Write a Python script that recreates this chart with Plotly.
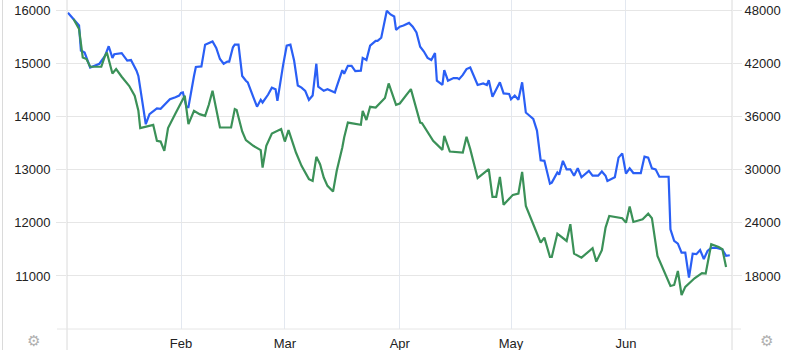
import plotly.graph_objects as go

blue_dates = [
    "2013-01-01 12:00", "2013-01-04 12:00", "2013-01-05", "2013-01-06", "2013-01-07 12:00",
    "2013-01-10", "2013-01-11 12:00", "2013-01-12 12:00", "2013-01-13 12:00", "2013-01-14",
    "2013-01-16", "2013-01-17 12:00", "2013-01-18 12:00", "2013-01-20", "2013-01-20 12:00",
    "2013-01-22", "2013-01-22 12:00", "2013-01-23 12:00", "2013-01-25 12:00", "2013-01-26 12:00",
    "2013-01-29", "2013-01-30 12:00", "2013-01-31 12:00", "2013-02-01", "2013-02-01 12:00",
    "2013-02-02 12:00", "2013-02-03", "2013-02-04 12:00", "2013-02-05", "2013-02-06 12:00",
    "2013-02-07 12:00", "2013-02-09 12:00", "2013-02-10 12:00", "2013-02-11 12:00", "2013-02-12 12:00",
    "2013-02-13 12:00", "2013-02-14", "2013-02-15", "2013-02-15 12:00", "2013-02-16 12:00",
    "2013-02-17 12:00", "2013-02-18 12:00", "2013-02-19", "2013-02-20 12:00", "2013-02-21 12:00",
    "2013-02-22 12:00", "2013-02-23", "2013-02-24 12:00", "2013-02-25 12:00", "2013-02-26 12:00",
    "2013-02-27", "2013-02-28 12:00", "2013-03-01 12:00", "2013-03-02 12:00", "2013-03-03 12:00",
    "2013-03-04 12:00", "2013-03-05 12:00", "2013-03-06 12:00", "2013-03-07 12:00", "2013-03-08 12:00",
    "2013-03-09 12:00", "2013-03-10", "2013-03-11 12:00", "2013-03-12 12:00", "2013-03-13 12:00",
    "2013-03-14 12:00", "2013-03-15", "2013-03-16 12:00", "2013-03-17", "2013-03-18",
    "2013-03-19", "2013-03-20", "2013-03-21 12:00", "2013-03-22", "2013-03-23",
    "2013-03-24", "2013-03-25 12:00", "2013-03-26", "2013-03-27", "2013-03-28 12:00",
    "2013-03-29 12:00", "2013-03-30 12:00", "2013-03-31", "2013-04-01", "2013-04-02",
    "2013-04-03 12:00", "2013-04-04 12:00", "2013-04-05 12:00", "2013-04-06 12:00", "2013-04-07 12:00",
    "2013-04-08 12:00", "2013-04-09 12:00", "2013-04-10 12:00", "2013-04-11", "2013-04-12 12:00",
    "2013-04-13", "2013-04-14", "2013-04-15 12:00", "2013-04-16 12:00", "2013-04-17",
    "2013-04-18", "2013-04-19", "2013-04-20", "2013-04-21", "2013-04-22",
    "2013-04-23 12:00", "2013-04-24 12:00", "2013-04-25", "2013-04-26", "2013-04-28",
    "2013-04-29", "2013-04-30 12:00", "2013-05-01", "2013-05-02", "2013-05-03",
    "2013-05-04", "2013-05-05", "2013-05-06", "2013-05-07", "2013-05-08",
    "2013-05-09", "2013-05-10", "2013-05-11 12:00", "2013-05-12", "2013-05-13 12:00",
    "2013-05-14", "2013-05-15", "2013-05-16", "2013-05-17", "2013-05-18",
    "2013-05-19", "2013-05-20", "2013-05-22", "2013-05-23", "2013-05-24 12:00",
    "2013-05-25 12:00", "2013-05-26 12:00", "2013-05-27", "2013-05-29", "2013-05-30",
    "2013-05-31", "2013-06-01", "2013-06-02", "2013-06-03", "2013-06-05",
    "2013-06-06", "2013-06-07", "2013-06-08", "2013-06-09", "2013-06-10",
    "2013-06-12 12:00", "2013-06-13", "2013-06-14", "2013-06-15", "2013-06-16",
    "2013-06-17", "2013-06-18", "2013-06-19", "2013-06-20", "2013-06-21",
    "2013-06-22", "2013-06-23", "2013-06-24", "2013-06-25 12:00", "2013-06-27",
    "2013-06-28", "2013-06-29",
]
blue_values = [
    15960, 15720, 15250, 15210, 14930,
    15000, 15150, 15330, 15110, 15180,
    15200, 15060, 15070, 14870, 14770,
    14110, 13860, 14050, 14160, 14150,
    14330, 14370, 14400, 14450, 14460,
    14180, 14180, 14770, 14940, 14950,
    15360, 15420, 15300, 15090, 15000,
    15040, 15040, 15310, 15360, 15360,
    14770, 14680, 14650, 14370, 14190,
    14320, 14270, 14420, 14550, 14520,
    14300, 14960, 15340, 15360, 15060,
    14590, 14550, 14490, 14320, 14400,
    15000, 14570, 14490, 14520, 14490,
    14460, 14570, 14880, 14810, 14960,
    14960, 14860, 14870, 15110, 15070,
    15340, 15430, 15430, 15490, 16000,
    15930, 15890, 15640, 15700, 15720,
    15770, 15700, 15590, 15320, 15230,
    15110, 15070, 15200, 14680, 14600,
    14880, 14680, 14730, 14730, 14710,
    14790, 14900, 14930, 14770, 14600,
    14630, 14600, 14690, 14380, 14650,
    14440, 14430, 14330, 14400, 14320,
    14650, 14080, 14020, 13960, 13740,
    13180, 13170, 12740, 12760, 12950,
    12910, 13170, 13010, 13010, 12890,
    13030, 12860, 12980, 12890, 12890,
    12970, 12890, 12790, 12860, 13230,
    13310, 12930, 13030, 12940, 12940,
    13250, 13230, 13030, 13010, 12870,
    12870, 11880, 11660, 11610, 11440,
    11440, 10970, 11420, 11410, 11490,
    11320, 11470, 11530, 11530, 11500,
    11380, 11390,
]

green_dates = [
    "2013-01-03", "2013-01-04 12:00", "2013-01-05 12:00", "2013-01-06 12:00", "2013-01-07 12:00",
    "2013-01-10 12:00", "2013-01-11 12:00", "2013-01-12", "2013-01-13 12:00", "2013-01-14 12:00",
    "2013-01-16", "2013-01-18", "2013-01-19 12:00", "2013-01-20 12:00", "2013-01-21",
    "2013-01-23", "2013-01-24 12:00", "2013-01-25 12:00", "2013-01-26 12:00", "2013-01-27 12:00",
    "2013-01-28 12:00", "2013-01-30 12:00", "2013-02-02", "2013-02-03", "2013-02-04 12:00",
    "2013-02-06", "2013-02-07 12:00", "2013-02-08 12:00", "2013-02-09 12:00", "2013-02-11 12:00",
    "2013-02-14 12:00", "2013-02-15 12:00", "2013-02-16", "2013-02-17 12:00", "2013-02-18 12:00",
    "2013-02-20 12:00", "2013-02-22 12:00", "2013-02-23", "2013-02-24", "2013-02-25 12:00",
    "2013-02-28", "2013-03-01", "2013-03-02", "2013-03-04", "2013-03-05 12:00",
    "2013-03-07 12:00", "2013-03-08 12:00", "2013-03-09 12:00", "2013-03-10 12:00", "2013-03-11 12:00",
    "2013-03-12 12:00", "2013-03-14", "2013-03-15", "2013-03-16 12:00", "2013-03-17",
    "2013-03-18", "2013-03-21 12:00", "2013-03-22", "2013-03-23", "2013-03-24",
    "2013-03-25 12:00", "2013-03-28", "2013-03-29", "2013-03-31", "2013-04-01",
    "2013-04-04", "2013-04-06 12:00", "2013-04-07", "2013-04-08 12:00", "2013-04-10",
    "2013-04-12 12:00", "2013-04-13", "2013-04-14 12:00", "2013-04-18", "2013-04-19",
    "2013-04-20", "2013-04-22", "2013-04-25", "2013-04-26", "2013-04-27",
    "2013-04-28", "2013-04-29", "2013-05-01 12:00", "2013-05-03", "2013-05-04",
    "2013-05-05", "2013-05-07", "2013-05-09", "2013-05-10", "2013-05-11 12:00",
    "2013-05-12", "2013-05-13 12:00", "2013-05-16", "2013-05-17", "2013-05-18",
    "2013-05-20", "2013-05-23", "2013-05-24", "2013-05-25 12:00", "2013-05-26 12:00",
    "2013-05-27 12:00", "2013-05-31", "2013-06-01", "2013-06-02", "2013-06-03",
    "2013-06-05 12:00", "2013-06-07", "2013-06-08", "2013-06-09 12:00", "2013-06-13",
    "2013-06-14", "2013-06-15", "2013-06-16", "2013-06-17", "2013-06-19 12:00",
    "2013-06-21 12:00", "2013-06-22 12:00", "2013-06-24", "2013-06-26", "2013-06-27",
    "2013-06-28",
]
green_values = [
    47060, 45930, 42710, 42530, 41660,
    41660, 42900, 43280, 40900, 41400,
    40530, 39510, 38380, 36680, 34720,
    34980, 35090, 33280, 33200, 32150,
    34720, 36370, 38380, 35170, 36680,
    36300, 36110, 37360, 38940, 34790,
    34790, 36870, 36760, 34340, 33360,
    32720, 32230, 30260, 32720, 34110,
    34610, 33200, 34490, 31960, 30450,
    28950, 28750, 31470, 30640, 29130,
    28190, 27540, 29890, 32520, 33660,
    35350, 35090, 36680, 35630, 37130,
    37050, 38120, 39770, 37360, 37500,
    39130, 35350, 35290, 34220, 33280,
    32260, 33850, 32070, 31960, 33740,
    32340, 29060, 30080, 26940, 26940,
    29210, 26040, 27170, 27320, 29770,
    25920, 23850, 21770, 22340, 20150,
    20150, 22790, 21960, 23850, 20520,
    20070, 21140, 19620, 20910, 23470,
    24790, 24530, 24030, 25850, 24110,
    24420, 25050, 24530, 20260, 16870,
    16980, 18570, 15850, 16760, 17740,
    18310, 18260, 21590, 21280, 21020,
    19020,
]

month_ticks = ["2013-02-01", "2013-03-01", "2013-04-01", "2013-05-01", "2013-06-01"]
month_labels = ["Feb", "Mar", "Apr", "May", "Jun"]
left_ticks = [11000, 12000, 13000, 14000, 15000, 16000]
left_labels = ["11000", "12000", "13000", "14000", "15000", "16000"]
right_ticks = [18000, 24000, 30000, 36000, 42000, 48000]
right_labels = ["18000", "24000", "30000", "36000", "42000", "48000"]

BLUE = "#2a5ff5"
GREEN = "#3b9158"
GRID = "#e6e6e6"
AXIS = "#dadada"
FONT = dict(family="Arial, Liberation Sans, sans-serif", size=13, color="#222222")

fig = go.Figure()
fig.add_trace(go.Scatter(x=blue_dates, y=blue_values, mode="lines",
                         line=dict(color=BLUE, width=2.2), yaxis="y", showlegend=False))
fig.add_trace(go.Scatter(x=green_dates, y=green_values, mode="lines",
                         line=dict(color=GREEN, width=2.2), yaxis="y2", showlegend=False))

W, H = 800, 350
ml, mr, mt, mb = 67, 68, 0, 21
pw = W - ml - mr
ph = H - mt - mb
ybot = -mb / ph

fig.update_layout(
    width=W, height=H,
    margin=dict(l=ml, r=mr, t=mt, b=mb, pad=0),
    plot_bgcolor="white", paper_bgcolor="white",
    font=FONT,
    xaxis=dict(
        type="date",
        range=["2013-01-01 06:00", "2013-06-29 14:24"],
        tickvals=month_ticks, ticktext=month_labels,
        showgrid=True, gridcolor="#e3e8f0", gridwidth=1,
        showline=False, zeroline=False,
        ticks="outside", ticklen=2, tickcolor="rgba(0,0,0,0)",
        tickfont=FONT,
    ),
    yaxis=dict(
        range=[10000, 16201.7],
        tickvals=left_ticks, ticktext=left_labels,
        showgrid=True, gridcolor=GRID, gridwidth=1,
        showline=False, zeroline=False,
        ticks="outside", ticklen=10, tickcolor=GRID,
        tickfont=FONT, ticklabelstandoff=3,
    ),
    yaxis2=dict(
        range=[12000, 49210],
        tickvals=right_ticks, ticktext=right_labels,
        overlaying="y", side="right",
        showgrid=False, showline=False, zeroline=False,
        ticks="outside", ticklen=9, tickcolor=GRID,
        tickfont=FONT, ticklabelstandoff=0,
    ),
    shapes=[
        dict(type="line", xref="paper", yref="paper", x0=0, x1=0, y0=ybot, y1=1,
             line=dict(color=AXIS, width=1)),
        dict(type="line", xref="paper", yref="paper", x0=1, x1=1, y0=ybot, y1=1,
             line=dict(color=AXIS, width=1)),
        dict(type="line", xref="paper", yref="paper", x0=-10 / pw, x1=1 + 9 / pw, y0=0, y1=0,
             line=dict(color=GRID, width=1)),
        dict(type="line", xref="paper", yref="paper", x0=(2.5 - ml) / pw, x1=(2.5 - ml) / pw,
             y0=ybot, y1=1, line=dict(color=AXIS, width=1)),
    ],
    annotations=[
        dict(text="⚙", xref="paper", yref="paper", x=(33 - ml) / pw, y=(ph - 340 + mt) / ph,
             showarrow=False, font=dict(size=15, color="#b0b0b0"), xanchor="center", yanchor="middle"),
        dict(text="⚙", xref="paper", yref="paper", x=(766 - ml) / pw, y=(ph - 340 + mt) / ph,
             showarrow=False, font=dict(size=15, color="#b0b0b0"), xanchor="center", yanchor="middle"),
    ],
)

fig.write_html("out.html")
